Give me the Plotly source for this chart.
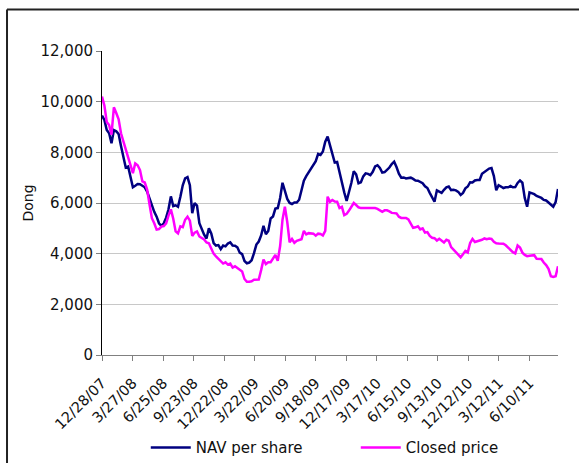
import pandas as pd
import plotly.graph_objects as go

start_date = "2007-12-28"
n_weeks = 193
dates = pd.date_range(start_date, periods=n_weeks, freq="7D")

nav_per_share = [
    9450, 9280, 8880, 8750, 8360, 8880, 8830, 8720, 8250, 7750,
    7400, 7440, 7050, 6620, 6680, 6750, 6740, 6670, 6620, 6450,
    6180, 5900, 5650, 5460, 5200, 5100, 5200, 5420, 5750, 6260,
    5880, 5910, 5850, 6250, 6700, 6970, 7020, 6700, 5600, 6000,
    5900, 5200, 4940, 4750, 4600, 5000, 4800, 4420, 4320, 4340,
    4180, 4320, 4290, 4400, 4450, 4320, 4310, 4250, 4040, 3980,
    3710, 3620, 3650, 3740, 4020, 4360, 4480, 4720, 5100, 4770,
    4900, 5390, 5470, 5780, 5800, 6200, 6800, 6440, 6160, 6000,
    5960, 6020, 6020, 6130, 6500, 6880, 7060, 7200, 7340, 7480,
    7650, 7940, 7900, 8030, 8420, 8620, 8250, 7850, 7600, 7620,
    7200, 6720, 6420, 6080, 6420, 6800, 7250, 7130, 6780, 6820,
    7050, 7170, 7150, 7100, 7230, 7440, 7490, 7380, 7200, 7220,
    7310, 7400, 7540, 7630, 7420, 7160, 7000, 7010, 6970, 6980,
    7000, 6950, 6890, 6880, 6830, 6780, 6660, 6590, 6400, 6240,
    6050, 6500, 6450, 6400, 6520, 6620, 6650, 6510, 6520, 6500,
    6440, 6320, 6400, 6580, 6650, 6820, 6810, 6890, 6910, 6910,
    7150, 7220, 7260, 7360, 7380, 7060, 6500, 6700, 6650, 6590,
    6620, 6620, 6670, 6620, 6630, 6790, 6890, 6800, 6200, 5850,
    6420, 6400, 6350, 6280, 6240, 6200, 6120, 6100, 6020, 5930,
    5850, 6040, 6550,
]

closed_price = [
    10200, 9850, 9200, 9080, 8700, 9780, 9550, 9300, 8750, 8400,
    8150, 7800, 7500, 7180, 7560, 7490, 7300, 6850, 6810, 6530,
    5950, 5400, 5200, 4950, 4970, 5070, 5090, 5200, 5500, 5750,
    5380, 4880, 4800, 5080, 5050, 5340, 5460, 5300, 4700, 4830,
    4880, 4680, 4620, 4560, 4440, 4410, 4200, 4000, 3890, 3800,
    3680, 3610, 3660, 3570, 3610, 3450, 3500, 3440, 3380, 3300,
    3000, 2890, 2890, 2910, 2970, 2980, 2980, 3350, 3770, 3590,
    3660, 3660, 3820, 3950, 3720, 4300, 5340, 5850, 5250, 4450,
    4580, 4430, 4510, 4550, 4570, 4900, 4760, 4810, 4790, 4790,
    4710, 4790, 4780, 4720, 4900, 6250, 6050, 6120, 6060, 6050,
    5800, 5850, 5520, 5570, 5700, 5850, 6000, 5920, 5830, 5800,
    5800, 5800, 5800, 5800, 5800, 5800, 5770, 5720, 5650, 5710,
    5710, 5670, 5610, 5600, 5590, 5460, 5410, 5410, 5410, 5350,
    5180, 5020, 5040, 5080, 4960, 5000, 4830, 4850, 4700, 4630,
    4610, 4520, 4590, 4520, 4440, 4550, 4510, 4260, 4170, 4060,
    3970, 3860, 3980, 4110, 4050, 4420, 4580, 4460, 4490, 4510,
    4550, 4600, 4570, 4600, 4580, 4470, 4410, 4400, 4400, 4390,
    4330, 4240, 4140, 4060, 4010, 4320, 4240, 4040, 3950, 3900,
    3920, 3930, 3940, 3800, 3790, 3790, 3650, 3550, 3400, 3110,
    3080, 3110, 3500,
]

series_names = ["NAV per share", "Closed price"]
y_ticks = [0, 2000, 4000, 6000, 8000, 10000, 12000]
tick_step_days = 90

FONT = "DejaVu Sans, Verdana, sans-serif"

fig = go.Figure()
fig.add_trace(go.Scatter(x=dates, y=nav_per_share, name=series_names[0], mode="lines",
                         line=dict(color="#000080", width=2.5)))
fig.add_trace(go.Scatter(x=dates, y=closed_price, name=series_names[1], mode="lines",
                         line=dict(color="#FF00FF", width=2.5)))

fig.update_layout(
    width=579, height=463,
    margin=dict(l=102, r=21, t=51, b=108, autoexpand=False),
    paper_bgcolor="white", plot_bgcolor="white",
    font=dict(family=FONT, size=14, color="#111"),
    showlegend=True,
    legend=dict(orientation="h", xref="paper", x=0.096, xanchor="left",
                yref="container", y=0.033, yanchor="middle",
                bgcolor="rgba(0,0,0,0)",
                font=dict(size=15), itemwidth=40, entrywidth=155, tracegroupgap=0),
    xaxis=dict(
        type="date", automargin=False,
        range=[dates[0], dates[-1]],
        tick0=start_date, dtick=tick_step_days * 86400000,
        tickformat="%-m/%-d/%y", tickangle=-45,
        showgrid=False, showline=True, linecolor="#808080", linewidth=1,
        ticks="outside", ticklen=5, tickcolor="#808080",
        ticklabelstandoff=8,
        tickfont=dict(size=14.5),
    ),
    yaxis=dict(
        automargin=False,
        range=[0, 12000], tickvals=y_ticks, tickformat=",d",
        showgrid=True, gridcolor="#c8c8c8", gridwidth=1,
        showline=True, linecolor="black", linewidth=1,
        ticks="outside", ticklen=5, tickcolor="#808080",
        zeroline=False,
        title=dict(text="Dong", standoff=3, font=dict(size=14)),
        tickfont=dict(size=15),
    ),
    shapes=[
        dict(type="line", xref="paper", yref="paper", x0=-0.2083, x1=1.2, y0=1.1365, y1=1.1365,
             line=dict(color="#222", width=2)),
        dict(type="line", xref="paper", yref="paper", x0=-0.2083, x1=-0.2083, y0=1.1365, y1=-0.5,
             line=dict(color="#222", width=2)),
    ],
)

fig.write_html("out.html")
